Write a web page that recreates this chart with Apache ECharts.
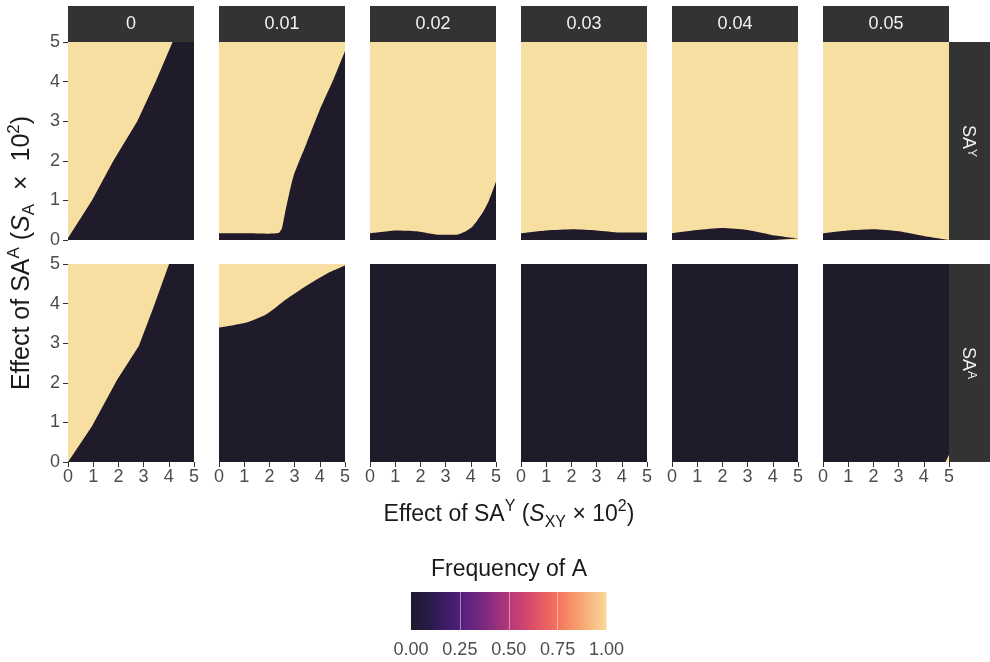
<!DOCTYPE html>
<html>
<head>
<meta charset="utf-8">
<script src="https://cdn.jsdelivr.net/npm/echarts@6/dist/echarts.min.js"></script>
<style>
html,body{margin:0;padding:0;background:#fff;}
#chart{width:990px;height:662px;}
</style>
</head>
<body>
<div id="chart"></div>
<script>
// ---------- data ----------
const facetCols = ['0', '0.01', '0.02', '0.03', '0.04', '0.05'];
const facetRows = ['Y', 'A']; // SA^Y , SA^A
const axisTicks = [0, 1, 2, 3, 4, 5];
const legendTicks = [0, 0.25, 0.5, 0.75, 1];

// Boundary curves: frequency of A is 0 (dark) below the curve, 1 (light) above it.
// Row SA^Y
const bndY_0    = [[0,0.05],[0.95,1.0],[1.8,2.0],[2.75,3.0],[3.48,4.0],[4.15,5.0],[5,5]];
const bndY_001  = [[0,0.17],[1,0.17],[2,0.16],[2.38,0.18],[2.5,0.3],[2.62,0.68],[2.95,1.6],[3.48,2.45],[4.0,3.29],[4.54,4.05],[5,4.77]];
const bndY_002  = [[0,0.17],[1.05,0.24],[1.84,0.22],[2.76,0.13],[3.41,0.13],[3.8,0.22],[4.07,0.34],[4.46,0.68],[4.72,1.0],[5,1.48]];
const bndY_003  = [[0,0.17],[1,0.24],[2.08,0.27],[3,0.24],[3.93,0.19],[5,0.19]];
const bndY_004  = [[0,0.17],[1,0.25],[2,0.3],[3,0.25],[4,0.12],[5,0.04]];
const bndY_005  = [[0,0.17],[1,0.24],[2,0.27],[3,0.22],[4,0.1],[5,0.0]];
// Row SA^A
const bndA_0    = [[0,0],[0.95,0.9],[1.95,2.08],[2.81,2.93],[3.41,3.94],[4.01,5.0],[5,5]];
const bndA_001  = [[0,3.39],[1.09,3.52],[1.88,3.73],[2.67,4.11],[3.47,4.45],[4.26,4.75],[5,4.96]];
const bndA_002  = [[0,5],[5,5]];
const bndA_003  = [[0,5],[5,5]];
const bndA_004  = [[0,5],[5,5]];
const bndA_005  = [[0,5],[5,5]];
// small light corner (frequency 1) in SA^A, 0.05 panel
const lightA_005 = [[4.86,0],[5,0.18]];

const boundaries = [
  [bndY_0, bndY_001, bndY_002, bndY_003, bndY_004, bndY_005],
  [bndA_0, bndA_001, bndA_002, bndA_003, bndA_004, bndA_005]
];
// which panels have a straight (unsmoothed) boundary
const straight = [
  [true, false, false, false, false, false],
  [true, false, true, true, true, true]
];

// ---------- styling ----------
const FONT = 'Liberation Sans, Arial, Helvetica, sans-serif';
const LIGHT = '#F6DFA1';
const DARK = '#201B2A';
const STRIP = '#333333';
const LEFT0 = 68, COL_STEP = 151, PW = 126;
const ROW_TOP = [42, 264], PH = 198;

const grids = [], xAxes = [], yAxes = [], series = [], graphics = [];

for (let r = 0; r < 2; r++) {
  for (let c = 0; c < 6; c++) {
    const gi = grids.length;
    const allDark = (r === 1 && c >= 2);
    grids.push({
      left: LEFT0 + COL_STEP * c, top: ROW_TOP[r], width: PW, height: PH,
      show: true, backgroundColor: allDark ? DARK : LIGHT, borderWidth: 0, containLabel: false
    });
    xAxes.push({
      gridIndex: gi, type: 'value', min: axisTicks[0], max: axisTicks[axisTicks.length - 1], interval: 1,
      axisLine: { show: false },
      axisTick: { show: r === 1, length: 5, lineStyle: { color: '#333', width: 1 } },
      axisLabel: { show: r === 1, fontSize: 18, color: '#4D4D4D', margin: 6, fontFamily: FONT },
      splitLine: { show: false }
    });
    yAxes.push({
      gridIndex: gi, type: 'value', min: axisTicks[0], max: axisTicks[axisTicks.length - 1], interval: 1,
      axisLine: { show: false },
      axisTick: { show: c === 0, length: 5, lineStyle: { color: '#333', width: 1 } },
      axisLabel: { show: c === 0, fontSize: 18, color: '#4D4D4D', margin: 8, fontFamily: FONT },
      splitLine: { show: false }
    });
    series.push({
      type: 'line', xAxisIndex: gi, yAxisIndex: gi,
      data: boundaries[r][c],
      showSymbol: false, symbol: 'none', silent: true,
      smooth: straight[r][c] ? false : 0.2,
      lineStyle: { width: 0, opacity: 0 },
      areaStyle: { color: DARK, opacity: 1, origin: 'start' },
      animation: false, z: 2
    });
    if (r === 1 && c === 5) {
      series.push({
        type: 'line', xAxisIndex: gi, yAxisIndex: gi,
        data: lightA_005,
        showSymbol: false, symbol: 'none', silent: true,
        lineStyle: { width: 0, opacity: 0 },
        areaStyle: { color: LIGHT, opacity: 1, origin: 'start' },
        animation: false, z: 3
      });
    }
    // top strips
    if (r === 0) {
      graphics.push({
        type: 'rect', shape: { x: LEFT0 + COL_STEP * c, y: 6, width: PW, height: 36 },
        style: { fill: STRIP }, silent: true
      });
      graphics.push({
        type: 'text', x: LEFT0 + COL_STEP * c + PW / 2, y: 24.5,
        style: { text: facetCols[c], fill: '#F2F2F2', font: '18px ' + FONT, align: 'center', verticalAlign: 'middle' },
        silent: true
      });
    }
  }
  // right strips
  graphics.push({
    type: 'rect', shape: { x: 949, y: ROW_TOP[r], width: 41, height: PH },
    style: { fill: STRIP }, silent: true
  });
  graphics.push({
    type: 'text', x: 968, y: ROW_TOP[r] + PH / 2, rotation: -Math.PI / 2,
    style: {
      text: 'SA{s|' + facetRows[r] + '}', fill: '#F2F2F2', font: '18px ' + FONT,
      align: 'center', verticalAlign: 'middle',
      rich: { s: { fontSize: 12, fill: '#F2F2F2', verticalAlign: 'top', lineHeight: 11, fontFamily: FONT } }
    },
    silent: true
  });
}

// colour bar grid
const cbIdx = grids.length;
grids.push({ left: 411, top: 592, width: 195.5, height: 38, show: true, borderWidth: 0,
  backgroundColor: { type: 'linear', x: 0, y: 0, x2: 1, y2: 0, colorStops: [
    { offset: 0, color: '#1E1A2E' }, { offset: 0.12, color: '#2E1A52' }, { offset: 0.25, color: '#50207A' },
    { offset: 0.38, color: '#7E2A80' }, { offset: 0.5, color: '#B3387A' }, { offset: 0.62, color: '#DC4C69' },
    { offset: 0.75, color: '#F4735D' }, { offset: 0.88, color: '#F9A874' }, { offset: 1, color: '#F8DA98' }
  ] } });
xAxes.push({ gridIndex: cbIdx, type: 'value', min: legendTicks[0], max: legendTicks[legendTicks.length - 1], interval: 0.25,
  axisLine: { show: false }, axisTick: { show: false },
  axisLabel: { fontSize: 18, color: '#4D4D4D', margin: 11, fontFamily: FONT, formatter: v => v.toFixed(2) },
  splitLine: { show: true, showMinLine: false, showMaxLine: false, lineStyle: { color: 'rgba(255,255,255,0.45)', width: 1 } } });
yAxes.push({ gridIndex: cbIdx, type: 'value', min: 0, max: 1, show: false, splitLine: { show: false } });

// axis titles & legend title
function richTitle(fs) {
  return {
    sup: { fontSize: Math.round(fs * 0.68), verticalAlign: 'top', lineHeight: 14, fontFamily: FONT, fill: '#1A1A1A' },
    sub: { fontSize: Math.round(fs * 0.68), verticalAlign: 'bottom', lineHeight: 14, fontFamily: FONT, fill: '#1A1A1A' },
    it: { fontSize: fs, fontStyle: 'italic', fontFamily: FONT, fill: '#1A1A1A', lineHeight: 32 },
    n: { fontSize: fs, fontFamily: FONT, fill: '#1A1A1A', lineHeight: 32 }
  };
}
graphics.push({
  type: 'text', x: 509, y: 515,
  style: { text: '{n|Effect of SA}{sup|Y}{n| (}{it|S}{sub|XY}{n| × 10}{sup|2}{n|)}', font: '23px ' + FONT, fill: '#1A1A1A',
    align: 'center', verticalAlign: 'middle', rich: richTitle(23) },
  silent: true
});
graphics.push({
  type: 'text', x: 22, y: 253, rotation: Math.PI / 2,
  style: { text: '{n|Effect of SA}{sup|A}{n| (}{it|S}{sub|A}{n|  ×  10}{sup|2}{n|)}', font: '25px ' + FONT, fill: '#1A1A1A',
    align: 'center', verticalAlign: 'middle', rich: richTitle(25) },
  silent: true
});
graphics.push({
  type: 'text', x: 509, y: 570,
  style: { text: 'Frequency of A', font: '23px ' + FONT, fill: '#1A1A1A', align: 'center', verticalAlign: 'middle' },
  silent: true
});

const chart = echarts.init(document.getElementById('chart'), null, { renderer: 'canvas' });
chart.setOption({
  backgroundColor: '#FFFFFF',
  animation: false,
  grid: grids,
  xAxis: xAxes,
  yAxis: yAxes,
  series: series,
  graphic: { elements: graphics }
});
</script>
</body>
</html>
